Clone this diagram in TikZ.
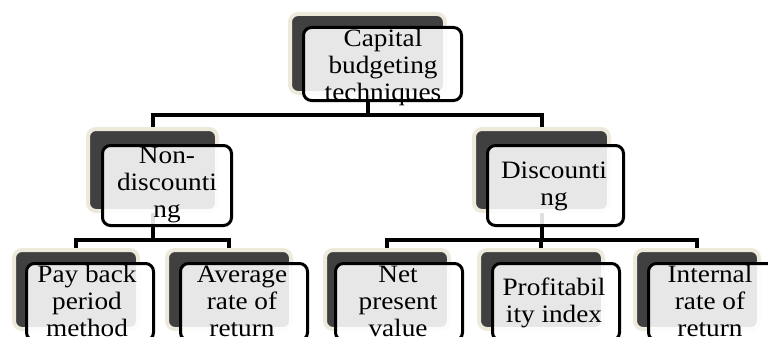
\documentclass[tikz,border=0pt]{standalone}
\usepackage{fontspec}
\setmainfont{Liberation Serif}[FakeStretch=1.09]
\usetikzlibrary{backgrounds}
\definecolor{beige}{HTML}{EDEADC}
\definecolor{darkshadow}{HTML}{404040}
\tikzset{
  shadowbox/.style={draw=beige, line width=4pt, fill=darkshadow, rounded corners=8pt,
    rectangle, inner sep=0pt},
  frontbox/.style={draw=black, line width=3pt, fill=white, fill opacity=0.88,
    rounded corners=8pt, rectangle, inner sep=0pt},
  label/.style={anchor=base, inner sep=0pt, text=black, font=\fontsize{25}{27}\selectfont},
  conn/.style={draw=black, line width=4pt}
}
\newcommand{\lines}[1]{\begin{tabular}[t]{@{}c@{}}#1\end{tabular}}
\begin{document}
\begin{tikzpicture}[x=1pt,y=-1pt]
\clip (0,0) rectangle (768,337);
\useasboundingbox (0,0) rectangle (768,337);
% shadow boxes
\node[shadowbox, minimum width=155pt, minimum height=79pt] (sh0) at (367.5,53.5) {};
\node[shadowbox, minimum width=129pt, minimum height=82pt] (sh1) at (152.5,170) {};
\node[shadowbox, minimum width=135pt, minimum height=82pt] (sh2) at (541.5,170) {};
\node[shadowbox, minimum width=124pt, minimum height=79pt] (sh3) at (76,289.5) {};
\node[shadowbox, minimum width=124pt, minimum height=79pt] (sh4) at (229,289.5) {};
\node[shadowbox, minimum width=124pt, minimum height=79pt] (sh5) at (387,289.5) {};
\node[shadowbox, minimum width=124pt, minimum height=79pt] (sh6) at (541,289.5) {};
\node[shadowbox, minimum width=124pt, minimum height=79pt] (sh7) at (697,289.5) {};
% front boxes
\node[frontbox, minimum width=158pt, minimum height=73pt] (fr0) at (382.5,64) {};
\node[frontbox, minimum width=129pt, minimum height=80pt] (fr1) at (167,185.5) {};
\node[frontbox, minimum width=136pt, minimum height=80pt] (fr2) at (555.5,185.5) {};
\node[frontbox, minimum width=127pt, minimum height=77pt] (fr3) at (90,302) {};
\node[frontbox, minimum width=127pt, minimum height=77pt] (fr4) at (244,302) {};
\node[frontbox, minimum width=127pt, minimum height=77pt] (fr5) at (399,302) {};
\node[frontbox, minimum width=127pt, minimum height=77pt] (fr6) at (556,302) {};
\node[frontbox, minimum width=127pt, minimum height=77pt] (fr7) at (712,302) {};
% texts
\node[label] (tx0) at (383,47) {\lines{Capital\\budgeting\\techniques}};
\node[label] (tx1) at (167,163) {\lines{Non-\\discounti\\ng}};
\node[label] (tx2) at (554,178) {\lines{Discounti\\ng}};
\node[label] (tx3) at (87,282) {\lines{Pay back\\period\\method}};
\node[label] (tx4) at (242,282) {\lines{Average\\rate of\\return}};
\node[label] (tx5) at (398,282) {\lines{Net\\present\\value}};
\node[label] (tx6) at (554,295) {\lines{Profitabil\\ity index}};
\node[label] (tx7) at (710,282) {\lines{Internal\\rate of\\return}};
% connectors
\coordinate (b1) at (0,115);
\coordinate (b2) at (0,240);
\begin{scope}[on background layer]
\draw[conn] (sh0.center) -- (sh0.center |- b1);
\draw[conn] (sh1.center) |- (sh2.center |- b1) -- (sh2.center);
\draw[conn] (sh1.center) -- (sh1.center |- b2);
\draw[conn] (sh3.center) |- (sh4.center |- b2) -- (sh4.center);
\draw[conn] (sh2.center) -- (sh2.center |- b2);
\draw[conn] (sh5.center) |- (sh7.center |- b2) -- (sh7.center);
\draw[conn] (sh6.center) -- (sh6.center |- b2);
\end{scope}
\end{tikzpicture}
\end{document}
